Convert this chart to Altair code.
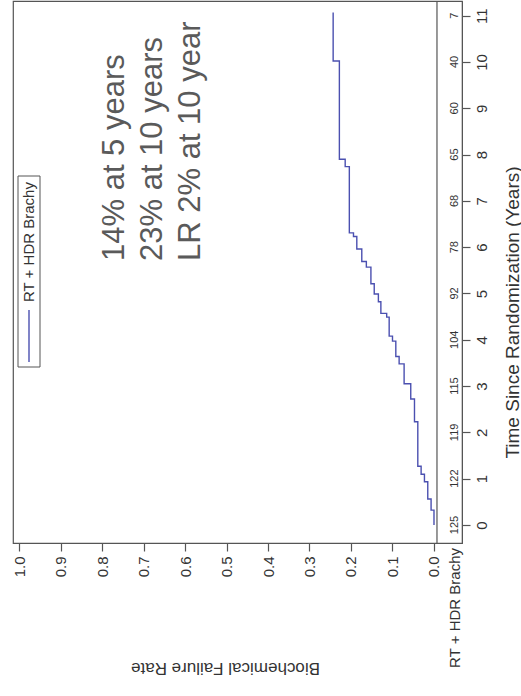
import altair as alt
import pandas as pd

# Cumulative biochemical failure (step function): event times and rate after each event
event_years = [0.0, 0.32, 0.56, 0.935, 1.095, 1.27, 2.23, 2.72, 3.05, 3.48, 3.64,
               3.97, 4.08, 4.49, 4.57, 4.82, 4.99, 5.21, 5.57, 5.69, 5.96, 6.23,
               6.31, 7.74, 7.90, 10.02]
failure_rate = [0.0, 0.007, 0.015, 0.023, 0.031, 0.039, 0.047, 0.056, 0.072, 0.084,
                0.092, 0.100, 0.108, 0.114, 0.128, 0.134, 0.144, 0.152, 0.163, 0.174,
                0.186, 0.194, 0.204, 0.214, 0.228, 0.243]
last_followup = 11.07

# Numbers at risk
risk_years = list(range(12))
risk_counts = [125, 122, 119, 115, 104, 92, 78, 68, 65, 60, 40, 7]

rate_ticks = [round(0.1 * i, 1) for i in range(11)]
year_ticks = list(range(12))

group_label = "RT + HDR Brachy"
notes = ["14% at 5 years", "23% at 10 years", "LR 2% at 10 year"]

# step vertices: hold the rate until the next event, then jump
rows = []
for i, (t, r) in enumerate(zip(event_years, failure_rate)):
    nxt = event_years[i + 1] if i + 1 < len(event_years) else last_followup
    rows.append({"years": t, "rate": r})
    rows.append({"years": nxt, "rate": r})
for k, row in enumerate(rows):
    row["idx"] = k
curve = pd.DataFrame(rows)
risk = pd.DataFrame({"years": risk_years, "n": [str(c) for c in risk_counts]})
single = pd.DataFrame({"k": [0]})  # one row for decorations drawn once

FONT = "Liberation Sans"
INK = "#333333"
FRAME = "#555555"
LINE = "#4b50b0"

x_scale = alt.Scale(domain=[-0.0675, 1.0145], reverse=True, nice=False, zero=False)
y_scale = alt.Scale(domain=[-0.389, 11.317], nice=False, zero=False)
risk_col = -0.0506
frame_col = -0.0072

line = alt.Chart(curve).mark_line(color=LINE, strokeWidth=1.4).encode(
    x=alt.X("rate:Q", scale=x_scale,
            axis=alt.Axis(values=rate_ticks, format=".1f", title="Biochemical Failure Rate",
                          orient="bottom", grid=False, labelAngle=270, labelAlign="right",
                          labelBaseline="middle", labelPadding=5, labelFontSize=15,
                          labelFont=FONT, labelColor=INK, labelOverlap=False,
                          tickSize=8, tickColor=FRAME, domainColor=FRAME, tickWidth=1.2,
                          titleAngle=180, titleX=212, titleY=124, titleAlign="center",
                          titleBaseline="middle", titleFontSize=17, titleFont=FONT,
                          titleFontWeight="normal", titleColor=INK)),
    y=alt.Y("years:Q", scale=y_scale,
            axis=alt.Axis(values=year_ticks, format="d", title="Time Since Randomization (Years)",
                          orient="right", grid=False, labelAngle=270, labelAlign="center",
                          labelBaseline="top", labelPadding=4, labelFontSize=15,
                          labelFont=FONT, labelColor=INK, labelOverlap=False,
                          tickSize=8, tickColor=FRAME, domainColor=FRAME, tickWidth=1.2,
                          titleAngle=270, titleX=50, titleY=311, titleAlign="center",
                          titleBaseline="middle", titleFontSize=19, titleFont=FONT,
                          titleFontWeight="normal", titleColor=INK)),
    order="idx:Q",
)

# divider between the plot and the numbers-at-risk column
divider = alt.Chart(single).mark_rule(color=FRAME, strokeWidth=1.2).encode(
    x=alt.datum(frame_col)
)

risk_text = alt.Chart(risk).mark_text(
    angle=270, align="center", baseline="middle", fontSize=11, font=FONT, color=INK,
    fontWeight="normal"
).encode(x=alt.datum(risk_col), y="years:Q", text="n:N")

row_label = alt.Chart(single).mark_text(
    angle=270, align="right", baseline="middle", fontSize=15, font=FONT, color=INK,
    fontWeight="normal", text=group_label
).encode(x=alt.datum(risk_col), y=alt.value(547))

# legend drawn as a rotated box
legend_box = alt.Chart(single).mark_rect(fill="white", stroke=FRAME, strokeWidth=1).encode(
    x=alt.value(5), x2=alt.value(27), y=alt.value(175), y2=alt.value(366)
)
legend_line = alt.Chart(single).mark_rule(color=LINE, strokeWidth=1.4).encode(
    x=alt.value(16), y=alt.value(309), y2=alt.value(361)
)
legend_text = alt.Chart(single).mark_text(
    angle=270, align="left", baseline="middle", fontSize=15, font=FONT, color=INK,
    fontWeight="normal", text=group_label
).encode(x=alt.value(16), y=alt.value(301))

note_layers = []
for note, xp in zip(notes, [102, 140, 178]):
    note_layers.append(
        alt.Chart(single).mark_text(
            angle=270, align="left", baseline="middle", fontSize=31, font=FONT,
            color="#5a5a5a", fontWeight="normal", text=note
        ).encode(x=alt.value(xp), y=alt.value(260))
    )

chart = alt.layer(
    legend_box, legend_line, legend_text, *note_layers, divider, risk_text, row_label, line
).properties(
    width=449, height=542,
    autosize=alt.AutoSizeParams(type="none"),
    padding={"left": 13, "top": 1, "right": 59, "bottom": 153},
    background="white",
).configure_view(stroke=FRAME, strokeWidth=1.2)

chart.save("out.html", embed_options={"renderer": "svg", "actions": False})
